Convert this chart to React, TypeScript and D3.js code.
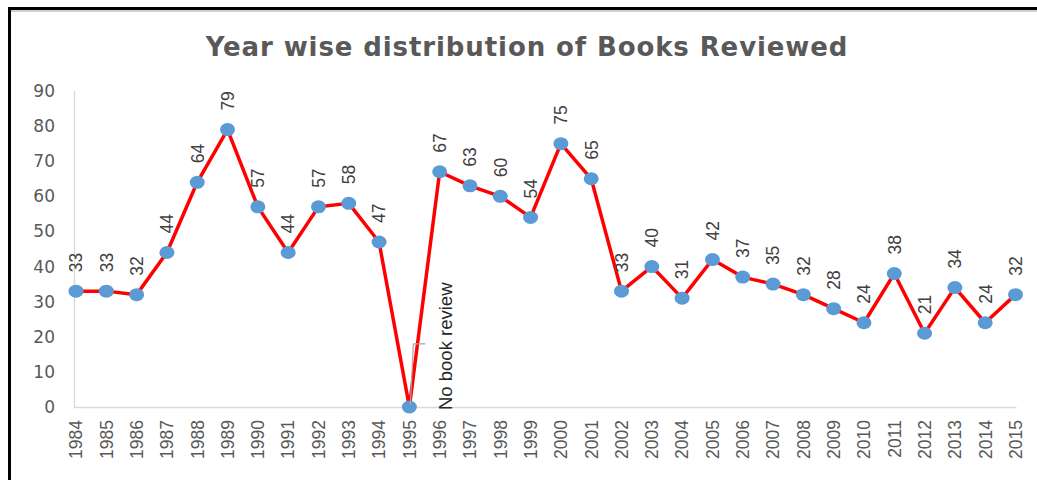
import React, { useEffect, useRef } from 'react';
import * as d3 from 'd3';

const years = [
    '1984', '1985', '1986', '1987', '1988', '1989', '1990', '1991',
    '1992', '1993', '1994', '1995', '1996', '1997', '1998', '1999',
    '2000', '2001', '2002', '2003', '2004', '2005', '2006', '2007',
    '2008', '2009', '2010', '2011', '2012', '2013', '2014', '2015',
];
const booksReviewed = [
    33, 33, 32, 44, 64, 79, 57, 44, 57, 58, 47, 0, 67, 63, 60, 54,
    75, 65, 33, 40, 31, 42, 37, 35, 32, 28, 24, 38, 21, 34, 24, 32,
];
const yTicks = [0, 10, 20, 30, 40, 50, 60, 70, 80, 90];
const noReviewYear = '1995';
const noReviewNote = 'No book review';
const title = 'Year wise distribution of Books Reviewed';

const App = () => {
    const chartRef = useRef<SVGSVGElement | null>(null);

    useEffect(() => {
        const width = 1037;
        const height = 480;
        const svg = d3.select(chartRef.current);
        svg.selectAll('*').remove();
        svg.attr('width', width).attr('height', height);

        svg.append('rect')
            .attr('x', 0)
            .attr('y', 0)
            .attr('width', width)
            .attr('height', height)
            .attr('fill', '#fff');

        // frame (only top and left edges show in the crop)
        svg.append('line')
            .attr('x1', 9.5).attr('x2', width)
            .attr('y1', 11).attr('y2', 11)
            .attr('stroke', '#d0d0d0').attr('stroke-width', 2);
        svg.append('line')
            .attr('x1', 8).attr('x2', width)
            .attr('y1', 8.5).attr('y2', 8.5)
            .attr('stroke', '#000').attr('stroke-width', 3);
        svg.append('line')
            .attr('x1', 9.5).attr('x2', 9.5)
            .attr('y1', 7).attr('y2', height)
            .attr('stroke', '#000').attr('stroke-width', 3);

        svg.append('text')
            .attr('x', 527)
            .attr('y', 56)
            .attr('text-anchor', 'middle')
            .style('font-family', 'DejaVu Sans')
            .style('font-weight', 'bold')
            .style('font-size', '26px')
            .style('letter-spacing', '0.9px')
            .attr('fill', '#595959')
            .text(title);

        const x = d3.scalePoint<string>()
            .domain(years)
            .range([76, 1015.5]);
        const y = d3.scaleLinear()
            .domain([0, 90])
            .range([407, 91]);

        // axes lines
        svg.append('line')
            .attr('x1', 74.5).attr('x2', 74.5)
            .attr('y1', y(90)).attr('y2', y(0))
            .attr('stroke', '#d9d9d9').attr('stroke-width', 1.3);
        svg.append('line')
            .attr('x1', 74).attr('x2', x('2015')! + 1)
            .attr('y1', y(0) + 0.5).attr('y2', y(0) + 0.5)
            .attr('stroke', '#d9d9d9').attr('stroke-width', 1.3);

        svg.append('g')
            .selectAll('text')
            .data(yTicks)
            .join('text')
            .attr('x', 55)
            .attr('y', d => y(d))
            .attr('dy', '0.35em')
            .attr('text-anchor', 'end')
            .style('font-family', 'DejaVu Sans')
            .style('font-size', '17px')
            .attr('fill', '#595959')
            .text(d => d);

        svg.append('g')
            .selectAll('text')
            .data(years)
            .join('text')
            .attr('transform', d => 'translate(' + x(d) + ',420) rotate(-90)')
            .attr('dy', '0.36em')
            .attr('text-anchor', 'end')
            .style('font-family', 'Liberation Sans')
            .style('font-size', '17.5px')
            .attr('fill', '#595959')
            .text(d => d);

        const pts = years.map((yr, i) => ({ yr, v: booksReviewed[i] }));

        const line = d3.line<{ yr: string; v: number }>()
            .x(d => x(d.yr)!)
            .y(d => y(d.v));
        svg.append('path')
            .datum(pts)
            .attr('d', line)
            .attr('fill', 'none')
            .attr('stroke', '#ff0000')
            .attr('stroke-width', 3.5)
            .attr('stroke-linejoin', 'round');

        svg.append('g')
            .attr('fill', '#5b9bd5')
            .selectAll('ellipse')
            .data(pts)
            .join('ellipse')
            .attr('cx', d => x(d.yr)!)
            .attr('cy', d => y(d.v))
            .attr('rx', 7.5)
            .attr('ry', 6.5);

        svg.append('g')
            .selectAll('text')
            .data(pts.filter(d => d.yr !== noReviewYear))
            .join('text')
            .attr('transform', d => 'translate(' + x(d.yr) + ',' + (y(d.v) - 19) + ') rotate(-90)')
            .attr('dy', '0.36em')
            .style('font-family', 'Liberation Sans')
            .style('font-size', '17.5px')
            .attr('fill', '#404040')
            .text(d => d.v);

        // callout for the missing year
        const nx = x(noReviewYear)!;
        svg.append('path')
            .attr('d', 'M' + (nx + 1) + ',' + (y(0) - 2) + 'L' + (nx + 4) + ',' + y(18) + 'H' + (nx + 16))
            .attr('fill', 'none')
            .attr('stroke', '#a6a6a6')
            .attr('stroke-width', 1.2);
        svg.append('text')
            .attr('transform', 'translate(' + (nx + 36) + ',410) rotate(-90)')
            .attr('dy', '0.35em')
            .style('font-family', 'Liberation Sans')
            .style('font-size', '18.5px')
            .attr('fill', '#262626')
            .text(noReviewNote);
    });

    return (
        <div style={{ position: 'absolute', left: 0, top: 0 }}>
            <svg ref={chartRef}></svg>
        </div>
    );
};

export default App;
